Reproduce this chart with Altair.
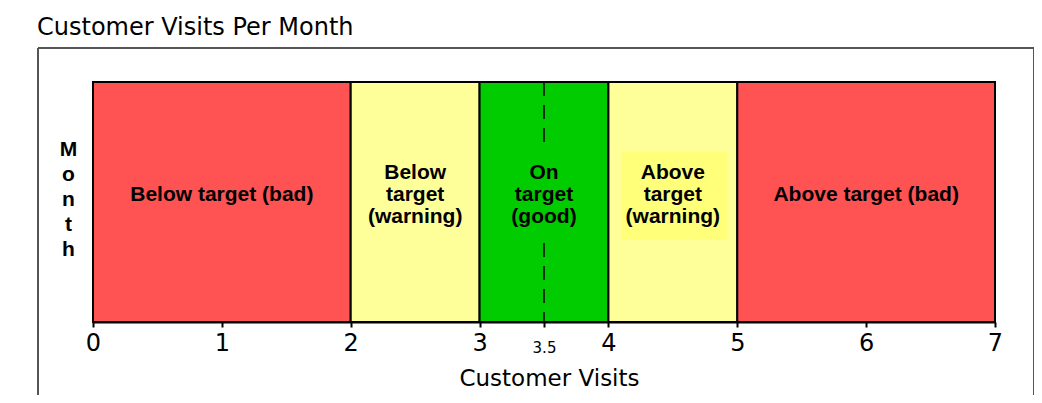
import altair as alt
import pandas as pd

# ---- data ----
band_start = [0, 2, 3, 4, 5]
band_end = [2, 3, 4, 5, 7]
band_color = ["#FF5252", "#FFFF99", "#00CC00", "#FFFF99", "#FF5252"]
band_label = [
    "Below target (bad)",
    "Below\ntarget\n(warning)",
    "On\ntarget\n(good)",
    "Above\ntarget\n(warning)",
    "Above target (bad)",
]
target_value = [3.5]
tick_values = [0, 1, 2, 3, 3.5, 4, 5, 6, 7]
# label background boxes (behind "On target" and "Above target (warning)")
box_x = [3.22, 4.10]
box_x2 = [3.78, 4.92]
box_y = [0.35, 0.342]
box_y2 = [0.715, 0.708]
box_color = ["#00CC00", "#FFFF7A"]

bands = pd.DataFrame({
    "start": band_start,
    "end": band_end,
    "color": band_color,
    "label": band_label,
})
bands["mid"] = (bands["start"] + bands["end"]) / 2
bands["y0"] = 0.0
bands["y1"] = 1.0
# first line of a multi-line label sits above the centre so the block is centred
bands["ty"] = 0.53 + bands["label"].str.count("\n") * (11 / 240)

target = pd.DataFrame({"target": target_value})
boxes = pd.DataFrame({"x": box_x, "x2": box_x2, "y": box_y, "y2": box_y2, "color": box_color})
one = pd.DataFrame({"a": [0]})

xscale = alt.Scale(domain=[0, 7], nice=False, zero=False)
yscale = alt.Scale(domain=[0, 1], nice=False, zero=False)

x_axis = alt.Axis(
    values=tick_values,
    format="~g",
    title="Customer Visits",
    labelFont="DejaVu Sans",
    labelFontSize={"condition": {"test": "datum.value == 3.5", "value": 15}, "value": 24},
    labelPadding={"condition": {"test": "datum.value == 3.5", "value": 13}, "value": 4},
    labelColor="black",
    labelBaseline="top",
    labelFlush=False,
    labelOverlap=False,
    tickSize=5,
    tickWidth=2,
    tickColor="black",
    domainColor="black",
    domainWidth=2,
    grid=False,
    titleFont="DejaVu Sans",
    titleFontSize=23,
    titleFontWeight="normal",
    titleColor="black",
    titleBaseline="alphabetic",
    titleAlign="center",
    titleX=456,
    titleY=63,
)

y_axis = alt.Axis(
    title=["M", "o", "n", "t", "h"],
    titleAngle=0,
    titleAlign="center",
    titleBaseline="alphabetic",
    titleX=-25,
    titleY=73,
    titleLineHeight=25,
    titleFont="Liberation Sans",
    titleFontSize=21,
    titleFontWeight="bold",
    titleColor="black",
    labels=False,
    ticks=False,
    domain=False,
    grid=False,
)

band_layer = alt.Chart(bands).mark_rect(stroke="black", strokeWidth=2).encode(
    x=alt.X("start:Q", scale=xscale, axis=x_axis),
    x2="end:Q",
    y=alt.Y("y0:Q", scale=yscale, axis=y_axis),
    y2="y1:Q",
    color=alt.Color("color:N", scale=None),
)

target_layer = alt.Chart(target).mark_rule(
    color="black", strokeWidth=1.5, strokeDash=[14, 9]
).encode(x="target:Q")

box_layer = alt.Chart(boxes).mark_rect().encode(
    x="x:Q", x2="x2:Q", y="y:Q", y2="y2:Q",
    color=alt.Color("color:N", scale=None),
)

text_layer = alt.Chart(bands).mark_text(
    font="Liberation Sans",
    fontWeight="bold",
    fontSize=21,
    lineBreak="\n",
    lineHeight=22,
    baseline="middle",
    align="center",
    color="black",
).encode(x="mid:Q", y="ty:Q", text="label:N")

frame_col = "#555555"
frame_top = alt.Chart(one).mark_rule(color=frame_col, strokeWidth=2).encode(
    x=alt.value(-55), x2=alt.value(941), y=alt.value(-34)
)
frame_left = alt.Chart(one).mark_rule(color=frame_col, strokeWidth=2).encode(
    x=alt.value(-55), y=alt.value(-34), y2=alt.value(320)
)
frame_right = alt.Chart(one).mark_rule(color=frame_col, strokeWidth=2).encode(
    x=alt.value(941), y=alt.value(-34), y2=alt.value(320)
)

chart = alt.layer(
    frame_top, frame_left, frame_right,
    band_layer, target_layer, box_layer, text_layer,
).properties(
    width=902,
    height=240,
    autosize="none",
    padding={"left": 85, "top": 74, "right": 39, "bottom": 73},
    background="white",
    title=alt.TitleParams(
        text="Customer Visits Per Month",
        anchor="start",
        frame="group",
        font="DejaVu Sans",
        fontSize=24,
        fontWeight="normal",
        color="black",
        baseline="top",
        dx=-56,
        offset=7,
    ),
).configure_view(strokeWidth=0)

chart.save("out.html", embed_options={"renderer": "svg", "actions": False})
